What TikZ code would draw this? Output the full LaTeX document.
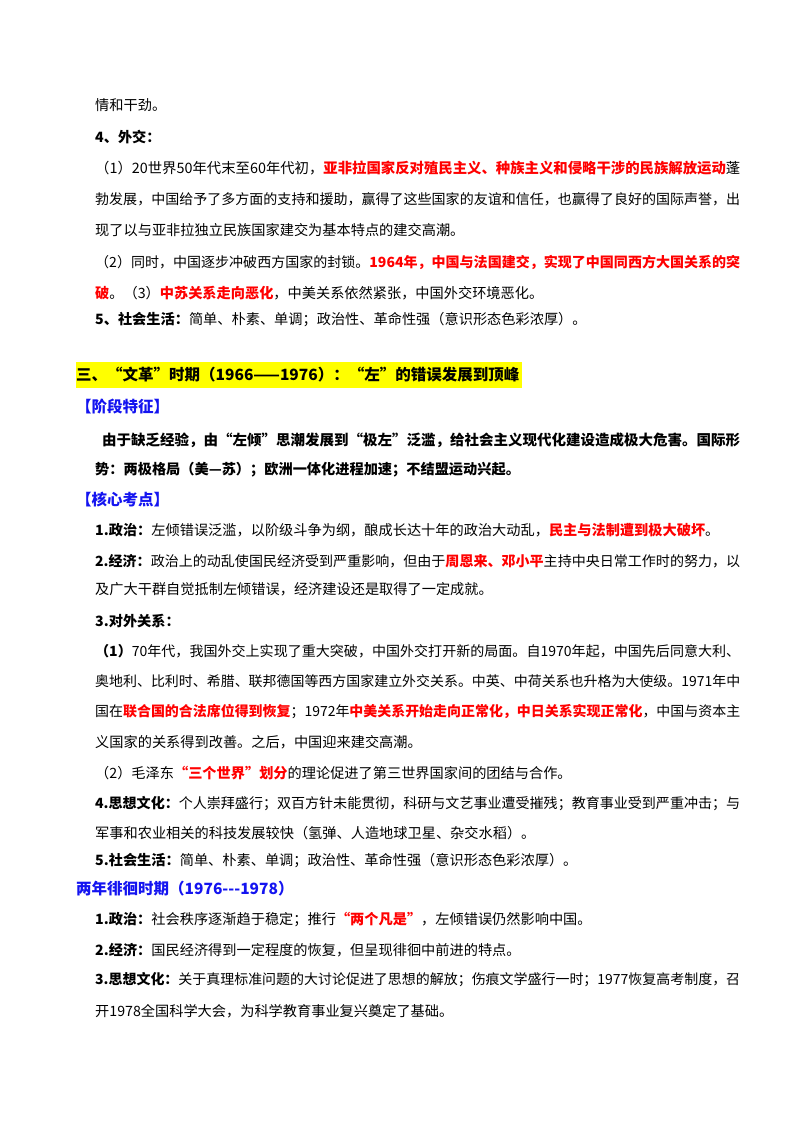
\documentclass[tikz,border=0pt]{standalone}
\usepackage{fontspec}
\usepackage{graphicx}
\setmainfont{Noto Sans CJK SC}
\definecolor{myred}{RGB}{255,0,0}
\definecolor{myblue}{RGB}{20,20,240}
\definecolor{myyel}{RGB}{255,255,0}
\newcommand{\R}[1]{{\bfseries\color{myred}#1}}
\newcommand{\Bd}[1]{{\bfseries #1}}
\newcommand{\FL}[1]{\resizebox{645pt}{!}{#1}}
\newcommand{\FLi}[1]{\resizebox{638pt}{!}{#1}}
\tikzset{
 txt/.style={anchor=west,inner sep=0pt,font=\fontsize{14.2}{17}\selectfont},
 full/.style={txt},
 bl/.style={txt,text=myblue,font=\fontsize{15.5}{18}\selectfont\bfseries}
}
\begin{document}
\begin{tikzpicture}[x=1pt,y=-1pt]
\useasboundingbox (0,0) rectangle (800,1132);
\node[txt] (l1) at (95,105) {情和干劲。};
\node[txt] (l2) at (95,137) {\Bd{4、外交：}};
\node[full] (l3) at (95,168) {\FL{（1）20世界50年代末至60年代初，\R{亚非拉国家反对殖民主义、种族主义和侵略干涉的民族解放运动}蓬}};
\node[full] (l4) at (95,199) {\FL{勃发展，中国给予了多方面的支持和援助，赢得了这些国家的友谊和信任，也赢得了良好的国际声誉，出}};
\node[txt] (l5) at (95,230) {现了以与亚非拉独立民族国家建交为基本特点的建交高潮。};
\node[full] (l6) at (95,262) {\FL{（2）同时，中国逐步冲破西方国家的封锁。\R{1964年，中国与法国建交，实现了中国同西方大国关系的突}}};
\node[txt] (l7) at (95,293) {\R{破}。（3）\R{中苏关系走向恶化}，中美关系依然紧张，中国外交环境恶化。};
\node[txt] (l8) at (95,320) {\Bd{5、社会生活：}简单、朴素、单调；政治性、革命性强（意识形态色彩浓厚）。};
\fill[myyel] (76,362) rectangle (522,388);
\node[txt,font=\fontsize{15.5}{18}\selectfont\bfseries] (h1) at (76,375) {三、“文革”时期（1966——1976）：“左”的错误发展到顶峰};
\node[bl] (h2) at (76,407) {【阶段特征】};
\node[full,font=\fontsize{14.2}{17}\selectfont\bfseries] (l9) at (102,440) {\FLi{由于缺乏经验，由“左倾”思潮发展到“极左”泛滥，给社会主义现代化建设造成极大危害。国际形}};
\node[txt,font=\fontsize{14.2}{17}\selectfont\bfseries] (l10) at (95,470) {势：两极格局（美—苏）；欧洲一体化进程加速；不结盟运动兴起。};
\node[bl] (h3) at (76,500) {【核心考点】};
\node[txt] (l11) at (95,530) {\Bd{1.政治：}左倾错误泛滥，以阶级斗争为纲，酿成长达十年的政治大动乱，\R{民主与法制遭到极大破坏}。};
\node[full] (l12) at (95,561) {\FL{\Bd{2.经济：}政治上的动乱使国民经济受到严重影响，但由于\R{周恩来、邓小平}主持中央日常工作时的努力，以}};
\node[txt] (l13) at (95,589) {及广大干群自觉抵制左倾错误，经济建设还是取得了一定成就。};
\node[txt] (l14) at (95,621) {\Bd{3.对外关系：}};
\node[full] (l15) at (95,651) {\FL{\Bd{（1）}70年代，我国外交上实现了重大突破，中国外交打开新的局面。自1970年起，中国先后同意大利、}};
\node[full] (l16) at (95,681) {\FL{奥地利、比利时、希腊、联邦德国等西方国家建立外交关系。中英、中荷关系也升格为大使级。1971年中}};
\node[full] (l17) at (95,712) {\FL{国在\R{联合国的合法席位得到恢复}；1972年\R{中美关系开始走向正常化，中日关系实现正常化}，中国与资本主}};
\node[txt] (l18) at (95,742) {义国家的关系得到改善。之后，中国迎来建交高潮。};
\node[txt] (l19) at (95,773) {（2）毛泽东\R{“三个世界”划分}的理论促进了第三世界国家间的团结与合作。};
\node[full] (l20) at (95,804) {\FL{\Bd{4.思想文化：}个人崇拜盛行；双百方针未能贯彻，科研与文艺事业遭受摧残；教育事业受到严重冲击；与}};
\node[txt] (l21) at (95,833) {军事和农业相关的科技发展较快（氢弹、人造地球卫星、杂交水稻）。};
\node[txt] (l22) at (95,861) {\Bd{5.社会生活：}简单、朴素、单调；政治性、革命性强（意识形态色彩浓厚）。};
\node[bl] (h4) at (76,889) {两年徘徊时期（1976{-}{-}{-}1978）};
\node[txt] (l23) at (95,919) {\Bd{1.政治：}社会秩序逐渐趋于稳定；推行\R{“两个凡是”}，左倾错误仍然影响中国。};
\node[txt] (l24) at (95,950) {\Bd{2.经济：}国民经济得到一定程度的恢复，但呈现徘徊中前进的特点。};
\node[full] (l25) at (95,980) {\FL{\Bd{3.思想文化：}关于真理标准问题的大讨论促进了思想的解放；伤痕文学盛行一时；1977恢复高考制度，召}};
\node[txt] (l26) at (95,1011) {开1978全国科学大会，为科学教育事业复兴奠定了基础。};
\end{tikzpicture}
\end{document}
